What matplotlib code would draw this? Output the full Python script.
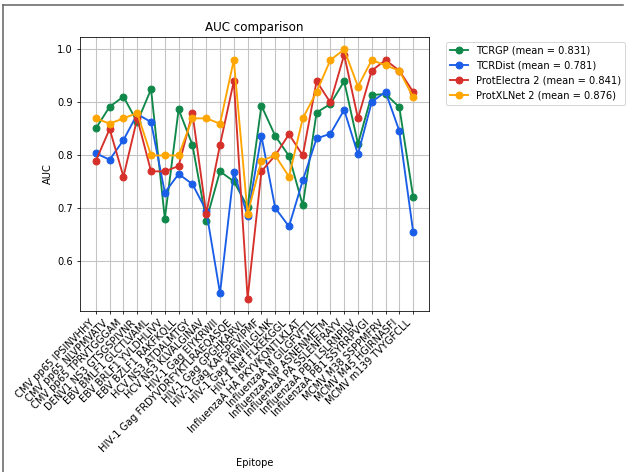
import matplotlib
matplotlib.use("Agg")
import matplotlib.pyplot as plt
from matplotlib.lines import Line2D

epitopes = [
    "CMV pp65 IPSINVHHY", "CMV pp65 NLVPMVATV", "CMV pp65 TPRVTGGGAM",
    "DENV1 NS3 GTSGSPIVNR", "EBV BMLF1 GLCTLVAML", "EBV BRLF1 YVLDHLIVV",
    "EBV BZLF1 RAKFKQLL", "HCV NS3 ATDALMTGY", "HCV NS3 KLVALGINAV",
    "HIV-1 Gag EIYKRWII", "HIV-1 Gag FRDYVDRFYKTLRAEQASQE", "HIV-1 Gag GPGHKARVL",
    "HIV-1 Gag KAFSPEVIPMF", "HIV-1 Gag KRWIILGLNK", "HIV-1 Nef FLKEKGGL",
    "InfluenzaA HA PKYVKQNTLKLAT", "InfluenzaA M GILGFVFTL", "InfluenzaA NP ASNENMETM",
    "InfluenzaA PA SSLENFRAYV", "InfluenzaA PB1 LSLRNPILV", "InfluenzaA PB1 SSYRRPVGI",
    "MCMV M38 SSPPMFRV", "MCMV M45 HGIRNASFI", "MCMV m139 TVYGFCLL",
]

tcrgp = [0.851, 0.892, 0.911, 0.863, 0.925, 0.681, 0.887, 0.820, 0.677, 0.770, 0.751, 0.703,
         0.894, 0.837, 0.799, 0.706, 0.881, 0.897, 0.940, 0.822, 0.914, 0.916, 0.891, 0.722]
tcrdist = [0.804, 0.792, 0.829, 0.878, 0.863, 0.730, 0.765, 0.746, 0.696, 0.540, 0.769, 0.686,
           0.837, 0.701, 0.666, 0.753, 0.832, 0.841, 0.886, 0.802, 0.901, 0.920, 0.846, 0.656]
protelectra = [0.79, 0.85, 0.76, 0.87, 0.77, 0.77, 0.78, 0.88, 0.69, 0.82, 0.94, 0.53,
               0.77, 0.80, 0.84, 0.80, 0.94, 0.90, 0.99, 0.87, 0.96, 0.98, 0.96, 0.92]
protxlnet = [0.87, 0.86, 0.87, 0.88, 0.80, 0.80, 0.80, 0.87, 0.87, 0.86, 0.98, 0.69,
             0.79, 0.80, 0.76, 0.87, 0.92, 0.98, 1.00, 0.93, 0.98, 0.97, 0.96, 0.91]

models = [
    ("TCRGP", tcrgp, "#10884a"),
    ("TCRDist", tcrdist, "#1a5ee8"),
    ("ProtElectra 2", protelectra, "#d6302a"),
    ("ProtXLNet 2", protxlnet, "#ffa500"),
]

DPI = 71
fig = plt.figure(figsize=(628 / DPI, 472 / DPI), dpi=DPI)
ax = fig.add_axes([80 / 628, 1 - 311 / 472, 349 / 628, 274 / 472])

for name, vals, color in models:
    mean = sum(vals) / len(vals)
    ax.plot(epitopes, vals, marker="o", markersize=7, linewidth=1.9, color=color,
            label=f"{name} (mean = {mean:.3f})")

ax.set_title("AUC comparison")
ax.set_xlabel("Epitope")
ax.set_ylabel("AUC")
ax.grid(True, linewidth=1.1, color="#c4c4c4")
plt.setp(ax.get_xticklabels(), rotation=45, ha="right")
ax.legend(loc="upper left", bbox_to_anchor=(1.035, 1), handlelength=1.8)

# thin frame along the top and left edge
fig.add_artist(Line2D([3 / 628, 3 / 628], [0, 1 - 5 / 472], color="#666666", lw=1.6))
fig.add_artist(Line2D([3 / 628, 623 / 628], [1 - 5 / 472, 1 - 5 / 472], color="#666666", lw=1.6))

fig.savefig("out.png", dpi=DPI)
